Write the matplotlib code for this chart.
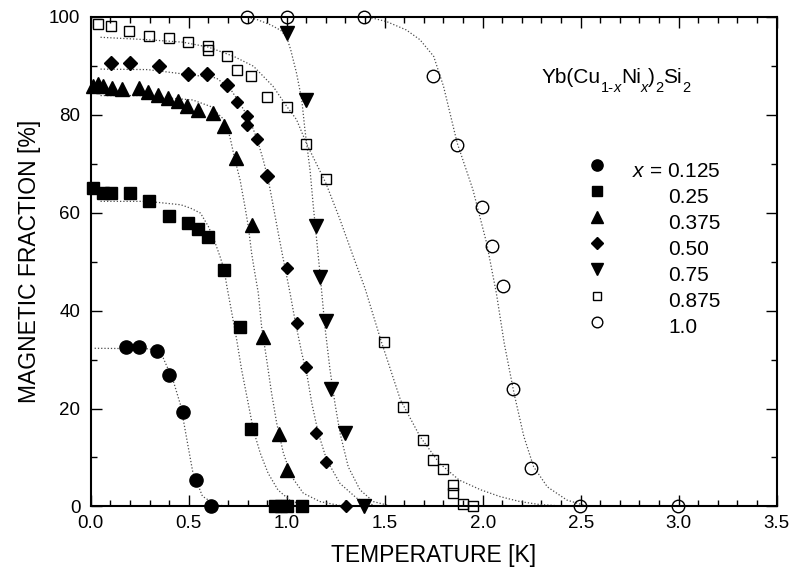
import matplotlib
matplotlib.use('Agg')
import matplotlib.pyplot as plt
from matplotlib.ticker import MultipleLocator

plt.rcParams['font.family'] = ['Liberation Sans', 'DejaVu Sans']
plt.rcParams['mathtext.fontset'] = 'custom'
plt.rcParams['mathtext.rm'] = 'Liberation Sans'
plt.rcParams['mathtext.it'] = 'Liberation Sans:italic'

# measured points, T [K] and magnetic fraction [%]
t_0125 = [0.18, 0.248, 0.34, 0.40, 0.469, 0.537, 0.614]
f_0125 = [32.6, 32.6, 31.8, 26.9, 19.2, 5.4, 0.0]

t_025 = [0.013, 0.064, 0.102, 0.20, 0.299, 0.40, 0.498, 0.549, 0.60, 0.68, 0.762, 0.82,
         0.94, 0.97, 1.0, 1.08]
f_025 = [65.0, 64.1, 64.0, 64.1, 62.3, 59.3, 57.9, 56.6, 55.0, 48.2, 36.6, 15.8,
         0.0, 0.0, 0.0, 0.0]

t_0375 = [0.013, 0.039, 0.064, 0.107, 0.158, 0.248, 0.294, 0.345, 0.396, 0.447, 0.493,
          0.549, 0.622, 0.68, 0.741, 0.821, 0.877, 0.959, 1.0]
f_0375 = [85.9, 86.3, 85.9, 85.4, 85.2, 85.4, 84.7, 84.1, 83.4, 82.7, 81.8,
          81.0, 80.3, 77.6, 71.1, 57.5, 34.7, 14.8, 7.5]

t_050 = [0.102, 0.20, 0.35, 0.498, 0.595, 0.694, 0.748, 0.799, 0.799, 0.85, 0.901,
         1.0, 1.051, 1.098, 1.15, 1.20, 1.301]
f_050 = [90.5, 90.5, 90.0, 88.4, 88.2, 86.1, 82.5, 79.8, 77.9, 75.0, 67.5,
         48.7, 37.4, 28.4, 15.0, 9.0, 0.0]

t_075 = [1.0, 1.098, 1.15, 1.17, 1.20, 1.224, 1.298, 1.396]
f_075 = [96.7, 82.9, 57.2, 46.8, 37.8, 23.9, 15.0, 0.0]

t_0875 = [0.039, 0.102, 0.197, 0.299, 0.40, 0.498, 0.60, 0.60, 0.697, 0.745, 0.818,
          0.898, 1.0, 1.098, 1.199, 1.496, 1.595, 1.697, 1.748, 1.796, 1.847, 1.847,
          1.898, 1.949]
f_0875 = [98.6, 98.2, 97.1, 96.1, 95.6, 94.8, 94.1, 93.1, 92.0, 89.2, 87.9,
          83.7, 81.6, 74.1, 66.8, 33.5, 20.4, 13.6, 9.5, 7.6, 4.4, 2.8,
          0.6, 0.0]

t_10 = [0.799, 1.0, 1.396, 1.748, 1.87, 1.995, 2.046, 2.102, 2.153, 2.247, 2.497, 2.995]
f_10 = [100.0, 100.0, 100.0, 87.9, 73.8, 61.1, 53.1, 45.0, 23.9, 7.9, 0.0, 0.0]

# fit curves
fit_t_0125 = [0.02, 0.30, 0.34, 0.37, 0.42, 0.46, 0.49, 0.52, 0.57, 0.64, 0.72]
fit_f_0125 = [32.3, 32.2, 31.5, 30.3, 25.8, 20.5, 13.8, 7.2, 2.1, 0.3, 0.0]

fit_t_025 = [0.05, 0.29, 0.46, 0.51, 0.56, 0.60, 0.63, 0.66, 0.68, 0.695, 0.72, 0.745,
             0.77, 0.80, 0.83, 0.865, 0.905, 0.955, 1.015, 1.08, 1.15]
fit_f_025 = [62.3, 62.3, 61.6, 60.9, 59.9, 57.2, 54.4, 51.0, 48.5, 44.9, 39.5, 34.0,
             27.9, 21.8, 15.6, 10.9, 6.8, 3.4, 1.3, 0.3, 0.0]

fit_t_0375 = [0.05, 0.25, 0.52, 0.61, 0.68, 0.71, 0.736, 0.762, 0.787, 0.804, 0.821,
              0.836, 0.855, 0.872, 0.898, 0.923, 0.949, 0.983, 1.025, 1.085, 1.17, 1.27]
fit_f_0375 = [83.9, 83.9, 83.0, 81.7, 79.0, 75.5, 70.8, 66.7, 61.2, 57.2, 51.7,
              48.0, 43.6, 36.7, 29.9, 23.1, 17.0, 10.9, 6.1, 2.7, 1.0, 0.2]

fit_t_050 = [0.05, 0.29, 0.64, 0.71, 0.76, 0.81, 0.85, 0.88, 0.906, 0.932, 0.957, 0.983,
             1.017, 1.042, 1.077, 1.102, 1.128, 1.161, 1.204, 1.272, 1.357, 1.44]
fit_f_050 = [89.3, 89.2, 87.5, 85.4, 82.4, 79.0, 74.9, 70.8, 66.7, 61.2, 55.8, 50.4,
             43.6, 38.1, 31.3, 27.2, 21.1, 15.0, 9.5, 4.7, 1.7, 0.3]

fit_t_075 = [0.80, 0.85, 0.92, 0.97, 1.0, 1.02, 1.05, 1.077, 1.093, 1.119, 1.136, 1.153,
             1.17, 1.195, 1.221, 1.246, 1.272, 1.314, 1.374, 1.442, 1.52]
fit_f_075 = [99.9, 99.4, 98.3, 97.2, 95.8, 93.3, 88.5, 83.0, 76.9, 68.7, 61.2, 54.4,
             47.5, 36.7, 27.9, 21.1, 15.0, 8.1, 3.4, 1.0, 0.2]

fit_t_0875 = [0.05, 0.29, 0.47, 0.60, 0.73, 0.83, 0.93, 1.0, 1.05, 1.10, 1.15, 1.20,
              1.27, 1.34, 1.40, 1.48, 1.58, 1.68, 1.78, 1.88, 1.99, 2.09, 2.19, 2.29, 2.40]
fit_f_0875 = [95.8, 95.3, 94.8, 93.8, 91.9, 89.9, 85.8, 81.7, 79.0, 74.2, 70.1, 66.0,
              58.8, 51.0, 44.5, 34.0, 21.8, 14.3, 8.8, 5.4, 3.4, 2.0, 1.0, 0.4, 0.1]

fit_t_10 = [1.40, 1.44, 1.51, 1.61, 1.68, 1.75, 1.80, 1.87, 1.95, 2.02, 2.07, 2.11,
            2.16, 2.21, 2.26, 2.33, 2.43, 2.53, 2.65]
fit_f_10 = [100.0, 99.7, 99.0, 97.3, 95.3, 91.9, 85.8, 74.2, 64.7, 53.8, 43.5, 33.3,
            23.1, 14.3, 8.1, 4.0, 1.3, 0.1, 0.0]

labels = ['0.125', '0.25', '0.375', '0.50', '0.75', '0.875', '1.0']

series = [
    (t_0125, f_0125, fit_t_0125, fit_f_0125, 'o', 9.5, 'k'),
    (t_025, f_025, fit_t_025, fit_f_025, 's', 8.4, 'k'),
    (t_0375, f_0375, fit_t_0375, fit_f_0375, '^', 10.5, 'k'),
    (t_050, f_050, fit_t_050, fit_f_050, 'D', 7.2, 'k'),
    (t_075, f_075, fit_t_075, fit_f_075, 'v', 10.5, 'k'),
    (t_0875, f_0875, fit_t_0875, fit_f_0875, 's', 7.3, 'none'),
    (t_10, f_10, fit_t_10, fit_f_10, 'o', 9.0, 'none'),
]

# the x=0.50 diamonds come in two sizes in the original
small_050 = [False] * 6 + [True, True, True, True, False] + [True] * 6

fig = plt.figure(figsize=(7.93, 5.76), dpi=100)
ax = fig.add_axes([0.1144, 0.1207, 0.865, 0.8503])

for k, (t, f, ft, ff, mk, ms, fc) in enumerate(series):
    ax.plot(ft, ff, color='0.3', lw=0.9, ls=(0, (1, 1.6)), zorder=2)
    if k == 3:
        for sm in (False, True):
            tt = [a for a, s in zip(t, small_050) if s == sm]
            yy = [b for b, s in zip(f, small_050) if s == sm]
            ax.plot(tt, yy, ls='none', marker=mk, ms=6.3 if sm else ms, mfc=fc,
                    mec='k', mew=1.0, clip_on=False, zorder=3)
    else:
        ax.plot(t, f, ls='none', marker=mk, ms=ms, mfc=fc, mec='k', mew=1.0,
                clip_on=False, zorder=3)

# legend drawn by hand
for i, (lab, s) in enumerate(zip(labels, series)):
    y = 0.6972 - i * 0.0533
    ax.plot([0.7376], [y], transform=ax.transAxes, ls='none', marker=s[4],
            ms=s[5] * 0.85, mfc=s[6], mec='k', mew=1.0, clip_on=False)
    if i == 0:
        ax.text(0.7886, y - 0.0237, '$x$ = ' + lab, transform=ax.transAxes,
                fontsize=15, va='baseline', ha='left')
    else:
        ax.text(0.8416, y - 0.0237, lab, transform=ax.transAxes,
                fontsize=15, va='baseline', ha='left')

# compound name, pieces placed one after another with lowered subscripts
pieces = [('Yb(Cu', 0, 15, 'normal'), ('1-', -6.5, 10.5, 'normal'),
          ('x', -6.5, 10.5, 'italic'), ('Ni', 0, 15, 'normal'),
          ('x', -6.5, 10.5, 'italic'), (')', 0, 15, 'normal'),
          ('2', -6.5, 10.5, 'normal'), ('Si', 0, 15, 'normal'),
          ('2', -6.5, 10.5, 'normal')]
renderer = fig.canvas.get_renderer()
dx = 0.0
for txt, dy, size, style in pieces:
    a = ax.annotate(txt, xy=(0.6574, 0.864), xycoords='axes fraction',
                    xytext=(dx, dy), textcoords='offset points',
                    fontsize=size, style=style, va='baseline', ha='left')
    w = a.get_window_extent(renderer).width
    dx += w * 72.0 / fig.dpi

ax.set_xlim(0, 3.5)
ax.set_ylim(0, 100)
ax.xaxis.set_major_locator(MultipleLocator(0.5))
ax.xaxis.set_minor_locator(MultipleLocator(0.1))
ax.yaxis.set_major_locator(MultipleLocator(20))
ax.yaxis.set_minor_locator(MultipleLocator(10))
ax.xaxis.set_major_formatter(plt.FuncFormatter(lambda v, p: '%.1f' % v))
ax.tick_params(which='both', direction='in', top=True, right=True, width=1.0,
               labelsize=13.5)
ax.tick_params(axis='x', which='major', length=8, pad=6)
ax.tick_params(axis='y', which='major', length=8, pad=7.5)
ax.tick_params(which='minor', length=4.5)
for sp in ax.spines.values():
    sp.set_linewidth(1.5)

ax.set_xlabel('TEMPERATURE [K]', fontsize=16.5, labelpad=9)
ax.set_ylabel('MAGNETIC FRACTION [%]', fontsize=16.5, labelpad=6)

fig.savefig('out.png', dpi=100)
